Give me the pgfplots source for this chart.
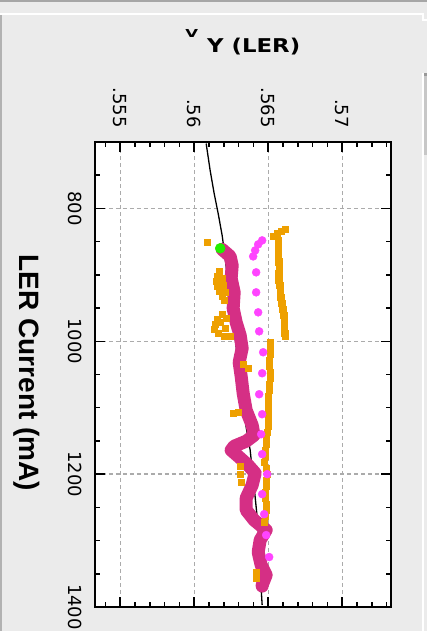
\documentclass[border=0pt]{standalone}
\usepackage{pgfplots}
\pgfplotsset{compat=1.18}
\usepackage{fontspec}
\newfontfamily\dv{DejaVu Sans}
\newfontfamily\ls{Liberation Sans}
\definecolor{bg}{HTML}{EBEBEB}
\definecolor{gridc}{HTML}{ABABAB}
\definecolor{orng}{HTML}{EEA000}
\definecolor{crim}{HTML}{D52F85}
\definecolor{mgnt}{HTML}{FF44FF}
\definecolor{grn}{HTML}{22EE00}
\begin{document}
\begin{tikzpicture}
% window background and chrome
\fill[bg] (-243pt,-256.5pt) rectangle (184pt,374.5pt);
\fill[black!35] (-243pt,374.5pt) rectangle (184pt,372.5pt);
\fill[white] (-243pt,361.5pt) rectangle (179pt,359.5pt);
\fill[white] (179pt,361.5pt) rectangle (181pt,353.5pt);
\fill[white] (179pt,355.5pt) rectangle (184pt,353.5pt);
\fill[black!30] (-243pt,359.5pt) rectangle (-241pt,-256.5pt);
\fill[white] (179pt,301.5pt) rectangle (181pt,-256.5pt);
\fill[black!22] (181pt,301.5pt) rectangle (184pt,219.5pt);
\fill[black!40] (181pt,301.5pt) rectangle (184pt,298.5pt);
\begin{axis}[
  name=ax, at={(0pt,0pt)}, anchor=center,
  scale only axis, width=296pt, height=465pt,
  xmin=0.5533, xmax=0.5733, ymin=700, ymax=1400, y dir=reverse,
  axis background/.style={fill=white},
  axis line style={line width=2pt},
  xtick={0.555,0.56,0.565,0.57}, xticklabels={.555,.56,.565,.57},
  minor xtick={0.554,0.556,0.557,0.558,0.559,0.561,0.562,0.563,0.564,0.566,0.567,0.568,0.569,0.571,0.572,0.573},
  ytick={800,1000,1200,1400}, yticklabels={800,1000,1200,1400},
  minor ytick={750,850,900,950,1050,1100,1150,1250,1300,1350},
  major tick length=10pt, minor tick length=5pt,
  every tick/.style={black, line width=1.5pt},
  grid=major,
  major grid style={gridc, line width=1.3pt, dash pattern=on 4pt off 3pt},
  xticklabel pos=upper, yticklabel pos=lower,
  xticklabel style={rotate=-90, anchor=east, inner sep=0pt, font=\dv\fontsize{18}{18}\selectfont},
  yticklabel style={rotate=-90, anchor=north, inner sep=0pt, font=\dv\fontsize{18}{18}\selectfont},
  xticklabel shift=14pt, yticklabel shift=13pt,
]
% fit line
\addplot[black, line width=1.3pt] table {
.560811 702.3
.561081 742.9
.561351 777.4
.561622 807.5
.561892 840.6
.562027 863.2
.563514 1129.3
.563784 1163.9
.564122 1234.6
.564324 1279.7
.564459 1348.9
.564595 1397
};
% orange scatter
\addplot[only marks, mark=square*, mark size=3.2pt, orng, mark options={draw=orng, fill=orng}] table {
.566149 831.6
.565879 834.6
.565608 837.6
.565338 842.1
.565676 848.1
.565676 853.0
.565676 857.1
.565676 862.0
.565676 866.2
.565676 871.0
.565676 875.2
.565710 880.0
.565744 884.2
.565744 889.0
.565744 893.2
.565710 898.0
.565676 902.3
.565710 907.0
.565744 911.3
.565780 916.0
.565811 920.3
.565811 925.0
.565811 929.3
.565845 934.0
.565879 938.3
.565910 943.0
.565946 947.4
.565980 952.0
.566014 956.4
.566050 961.0
.566081 965.4
.566081 970.0
.566081 974.4
.566081 979.0
.566081 983.5
.566110 988.0
.566149 992.5
.565136 1001.5
.565136 1010.5
.565136 1019.6
.565068 1028.6
.565068 1037.6
.565136 1046.6
.565136 1055.6
.565068 1064.7
.565068 1073.7
.565000 1082.7
.565000 1091.7
.565000 1100.8
.565000 1109.8
.565000 1118.8
.565000 1127.8
.564933 1136.9
.564865 1145.9
.564865 1154.9
.564798 1163.9
.564798 1172.9
.564730 1182.0
.564865 1191.0
.564933 1200.0
.564865 1209.0
.564865 1218.1
.564798 1227.1
.564798 1236.1
.564865 1245.1
.564865 1254.1
.564798 1263.2
.564730 1272.2
.564190 1347.4
.564190 1356.4
.560879 851.1
.561689 894.7
.561554 902.3
.561487 909.8
.561554 917.3
.561689 924.8
.561892 932.3
.562027 938.3
.561892 905.3
.561959 915.8
.562095 926.3
.561892 959.4
.561554 966.9
.561419 974.4
.561352 982.0
.561622 988.0
.562027 992.5
.562162 965.4
.562095 980.5
.561757 971.4
.562433 992.5
.563311 1034.6
.563649 1040.6
.562635 1108.3
.562973 1106.8
.563108 1188.0
.563108 1200.0
.563176 1212.0
};
% crimson thick trace
\addplot[crim, line width=13pt, line cap=round, line join=round] table {
.561892 861.7
.562433 872.2
.562568 885.7
.562500 905.3
.562703 926.3
.562635 950.4
.562838 971.4
.563108 991.0
.563243 1010.5
.563041 1031.6
.563176 1052.6
.563311 1078.2
.563514 1103.8
.563919 1126.3
.564054 1141.4
.563514 1150.4
.562703 1157.9
.562500 1163.9
.563041 1174.4
.563649 1186.5
.564122 1198.5
.563919 1216.5
.563514 1236.1
.563514 1254.1
.564054 1269.2
.564865 1284.2
.564459 1299.3
.564325 1317.3
.564527 1336.9
.564865 1351.9
.564595 1366.9
.564595 1368.5
};
% magenta dots
\addplot[only marks, mark=*, mark size=4pt, mgnt, mark options={draw=mgnt, fill=mgnt}] table {
.564595 848.1
.564325 854.1
.564122 863.2
.563987 872.2
.564189 896.2
.564189 926.3
.564325 956.4
.564392 985.0
.564662 1016.5
.564595 1048.1
.564392 1079.7
.564595 1109.8
.564527 1139.9
.564595 1169.9
.564933 1200.0
.564595 1230.1
.564730 1260.2
.564865 1291.7
.565068 1324.8
};
% green start point
\addplot[only marks, mark=*, mark size=5pt, grn, mark options={draw=grn, fill=grn}] table {
.561760 860
};
\end{axis}
% titles
\node[anchor=base west, inner sep=0pt, font=\dv\bfseries\fontsize{11}{11}\selectfont, xscale=1.5] at (-58pt,336.5pt) {V};
\node[anchor=base west, inner sep=0pt, font=\dv\bfseries\fontsize{19}{19}\selectfont, xscale=1.2] at (-36pt,321.5pt) {Y (LER)};
\node[rotate=-90, inner sep=0pt, font=\ls\bfseries\fontsize{28}{28}\selectfont] at (-216pt,1.5pt) {LER Current (mA)};
\pgfresetboundingbox
\useasboundingbox (-243pt,-256.5pt) rectangle (184pt,374.5pt);
\end{tikzpicture}
\end{document}
